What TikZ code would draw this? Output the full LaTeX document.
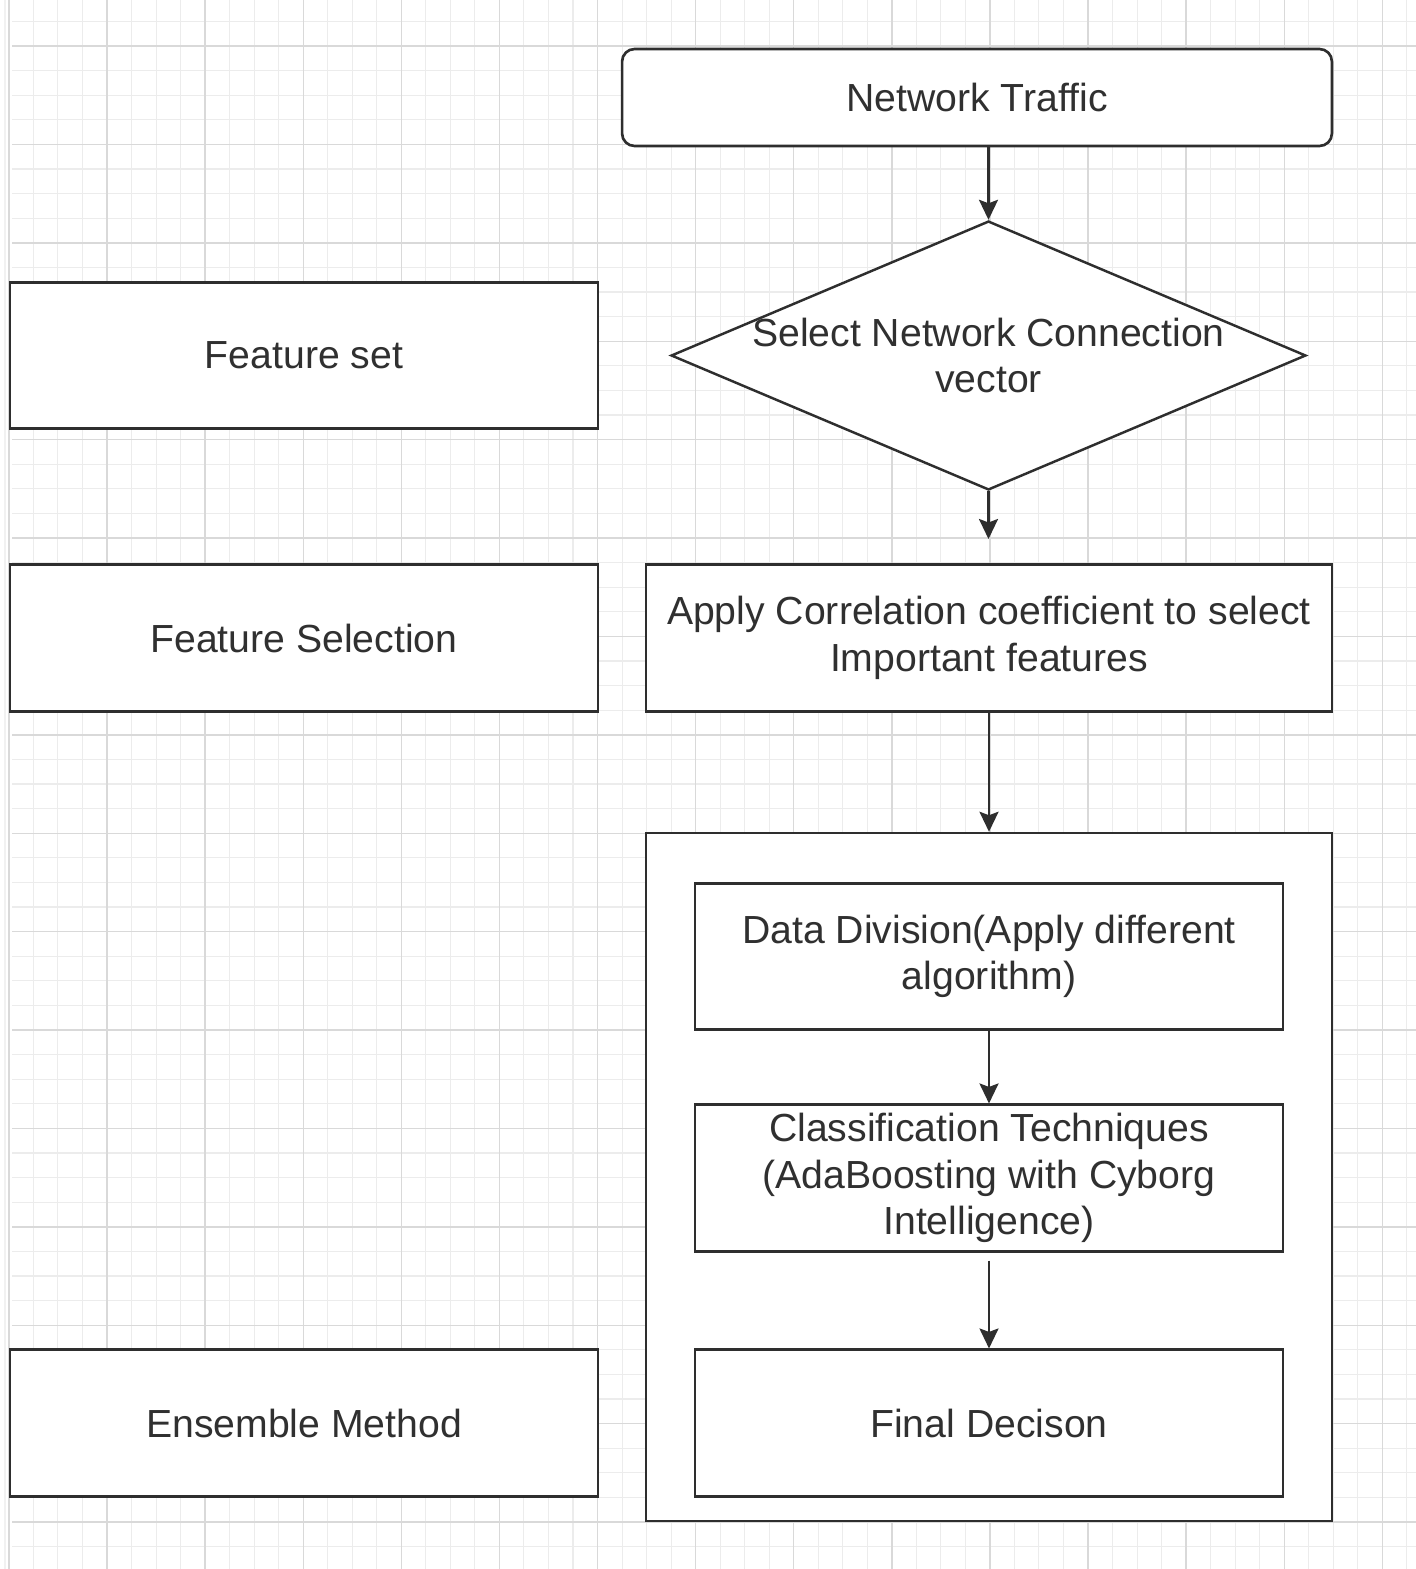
\documentclass[tikz,border=0pt]{standalone}
\usepackage{fontspec}
\setmainfont{Liberation Sans}
\usetikzlibrary{arrows.meta,shapes.geometric}
\definecolor{linecol}{HTML}{2E2E2E}
\definecolor{txtcol}{HTML}{303030}
\definecolor{minorcol}{HTML}{ECECEC}
\definecolor{majorcol}{HTML}{D9D9D9}

\begin{document}
\begin{tikzpicture}[x=0.02cm,y=-0.02cm,
    every node/.style={font=\fontsize{22.3pt}{26.5pt}\selectfont,text=txtcol},
    box/.style={draw=linecol,line width=1.5pt,fill=white,align=center,inner sep=0pt,
        minimum width=11.76cm,minimum height=2.93cm},
    widebox/.style={box,minimum width=13.72cm},
    decision/.style={diamond,draw=linecol,line width=1.4pt,fill=white,inner sep=0pt,
        minimum width=12.7cm,minimum height=5.38cm},
    arr/.style={draw=linecol,line width=1.4pt,-{Stealth[length=0.4cm,width=0.38cm,inset=0.07cm]}},
    minorgrid/.style={draw=minorcol,line width=0.6pt},
    majorgrid/.style={draw=majorcol,line width=0.8pt}]
    \useasboundingbox[fill=white] (0,0) rectangle (1416,1569);
    \foreach \i in {0,...,57} \draw[minorgrid] ({8.9+24.525*\i},0) -- ({8.9+24.525*\i},1569);
    \foreach \j in {-1,...,61} \draw[minorgrid] (12,{46+24.6*\j}) -- (1416,{46+24.6*\j});
    \foreach \i in {0,...,14} \draw[majorgrid] ({8.9+98.1*\i},0) -- ({8.9+98.1*\i},1569);
    \foreach \j in {0,...,15} \draw[majorgrid] (12,{46+98.4*\j}) -- (1416,{46+98.4*\j});
    \draw[draw=majorcol!85!black!20,line width=1.6pt] (5,0) -- (5,1569);

    \node[box,rounded corners=0.25cm,minimum width=14.2cm,minimum height=1.94cm] (traffic) at (977,97.5) {Network Traffic};
    \node[decision,label={[align=center,font=\fontsize{22.3pt}{26.5pt}\selectfont,text=txtcol]center:Select Network Connection\\vector}] (select) at (988.5,355.5) {};
    \coordinate (gap) at (988.5,539);
    \node[widebox] (apply) at (989,638) {Apply Correlation coefficient to select\\Important features};
    \node[widebox,minimum height=13.76cm] (ensemble) at (989,1177) {};
    \node[box] (division) at (989,956.5) {Data Division(Apply different\\algorithm)};
    \node[box] (classify) at (989,1178) {Classification Techniques\\(AdaBoosting with Cyborg\\Intelligence)};
    \node[box] (final) at (989,1423) {Final Decison};

    \node[box] (featset) at (304,355.5) {Feature set};
    \node[box] (featsel) at (304,638) {Feature Selection};
    \node[box] (method) at (304,1423) {Ensemble Method};

    \draw[arr] (traffic.south -| select.north) -- (select.north);
    \draw[arr] (select.south) -- (gap);
    \draw[arr] (apply) -- (ensemble.north);
    \draw[arr] (division) -- (classify);
    \draw[arr,shorten <=0.16cm] (classify) -- (final);
\end{tikzpicture}
\end{document}
